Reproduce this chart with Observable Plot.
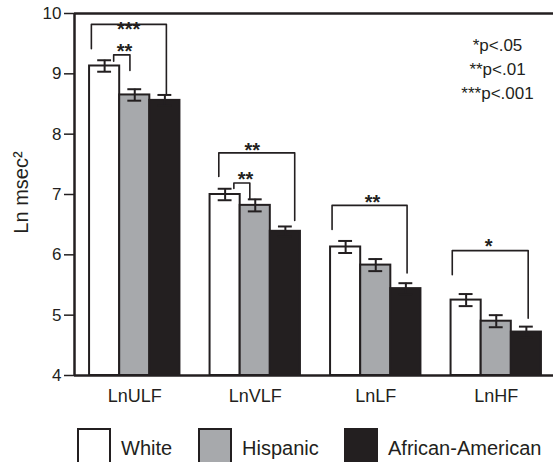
<!DOCTYPE html>
<html>
<head>
<meta charset="utf-8">
<script src="https://cdn.jsdelivr.net/npm/d3@7"></script>
<script src="https://cdn.jsdelivr.net/npm/@observablehq/plot@0.6"></script>
<style>
  body { margin: 0; background: #fff; font-family: "Liberation Sans", Arial, sans-serif; color: #231f20; }
  #chart svg { display: block; overflow: visible; }
  #legend { position: relative; width: 553px; height: 47px; overflow: hidden; }
  .item { position: absolute; top: 13px; display: flex; align-items: flex-start; }
  .sw { width: 30px; height: 34px; border: 2px solid #231f20; }
  .lab { font-size: 20px; line-height: 24px; margin-left: 10px; margin-top: 8px; white-space: nowrap; }
</style>
</head>
<body>
<div id="chart"></div>
<div id="legend"></div>
<script>
// ---- data ----
const categories = ["LnULF", "LnVLF", "LnLF", "LnHF"];
const seriesNames = ["White", "Hispanic", "African-American"];
const seriesColors = ["#ffffff", "#a7a9ac", "#231f20"];
const whiteMeans = [9.13, 7.00, 6.13, 5.25];
const hispanicMeans = [8.65, 6.82, 5.83, 4.90];
const africanAmericanMeans = [8.56, 6.39, 5.44, 4.72];
const whiteSE = [0.095, 0.095, 0.10, 0.10];
const hispanicSE = [0.095, 0.10, 0.10, 0.10];
const africanAmericanSE = [0.09, 0.08, 0.09, 0.09];
const yTicks = [4, 5, 6, 7, 8, 9, 10];

// significance brackets (x in bar-slot units, y in Ln msec²)
const bracketLabel = ["***", "**", "**", "**", "**", "*"];
const bracketStart = [0.56, 1.30, 4.79, 5.29, 8.55, 12.54];
const bracketEnd = [3.05, 1.84, 7.31, 5.82, 11.04, 15.06];
const bracketTop = [9.82, 9.315, 7.69, 7.19, 6.82, 6.07];
const bracketLeftFoot = [9.415, 9.21, 7.30, 7.10, 6.42, 5.67];
const bracketRightFoot = [8.67, 9.055, 6.57, 6.92, 5.70, 4.95];
const bracketLabelX = [1.80, 1.66, 5.90, 5.68, 9.89, 13.75];
const bracketLabelY = [9.83, 9.47, 7.83, 7.35, 6.97, 6.23];
const pLegend = ["*p<.05", "**p<.01", "***p<.001"];

// ---- build tables ----
const means = [whiteMeans, hispanicMeans, africanAmericanMeans];
const ses = [whiteSE, hispanicSE, africanAmericanSE];
const rows = [];
categories.forEach((cat, g) => {
  seriesNames.forEach((s, k) => {
    rows.push({cat, series: s, g, k, value: means[k][g], se: ses[k][g], cx: 4 * g + k + 1});
  });
});
const bracketPts = [];
bracketLabel.forEach((lab, i) => {
  bracketPts.push({id: i, x: bracketStart[i], y: bracketLeftFoot[i]});
  bracketPts.push({id: i, x: bracketStart[i], y: bracketTop[i]});
  bracketPts.push({id: i, x: bracketEnd[i], y: bracketTop[i]});
  bracketPts.push({id: i, x: bracketEnd[i], y: bracketRightFoot[i]});
});
const bracketText = bracketLabel.map((t, i) => ({t, x: bracketLabelX[i], y: bracketLabelY[i]}));

const ink = "#231f20";
const capHalf = 0.23;

const chart = Plot.plot({
  width: 553,
  height: 415,
  marginLeft: 74,
  marginRight: -3,
  marginTop: 13,
  marginBottom: 40,
  style: {fontFamily: '"Liberation Sans", Arial, sans-serif', color: ink, background: "white", overflow: "visible"},
  x: {domain: [0, 16], axis: null},
  y: {domain: [4, 10], axis: null},
  color: {domain: seriesNames, range: seriesColors},
  marks: [
    Plot.rect(rows, {x1: d => d.cx - 0.5, x2: d => d.cx + 0.5, y1: 4, y2: "value", fill: "series", stroke: ink, strokeWidth: 2}),
    Plot.ruleX(rows, {x: "cx", y1: d => d.value - d.se, y2: d => d.value + d.se, stroke: ink, strokeWidth: 2}),
    Plot.ruleY(rows, {y: d => d.value + d.se, x1: d => d.cx - capHalf, x2: d => d.cx + capHalf, stroke: ink, strokeWidth: 2}),
    Plot.ruleY(rows, {y: d => d.value - d.se, x1: d => d.cx - capHalf, x2: d => d.cx + capHalf, stroke: ink, strokeWidth: 2}),
    Plot.line(bracketPts, {x: "x", y: "y", z: "id", stroke: ink, strokeWidth: 1.6, curve: "linear"}),
    Plot.text(bracketText, {x: "x", y: "y", text: "t", fontSize: 20, fontWeight: "bold", fill: ink, dy: 6}),
    Plot.ruleY([4, 10], {stroke: ink, strokeWidth: 2.5}),
    Plot.ruleX([0], {y1: 4, y2: 10, stroke: ink, strokeWidth: 2.5}),
    Plot.axisY({ticks: yTicks, tickFormat: d => String(d), tickSize: 10, tickPadding: 3, fontSize: 17, label: null, strokeWidth: 1.5}),
    Plot.axisX({ticks: categories.map((c, g) => 4 * g + 2), tickFormat: v => categories[(v - 2) / 4], tickSize: 0, tickPadding: 14, fontSize: 18, label: null}),
    Plot.text(["Ln msec\u00b2"], {frameAnchor: "left", dx: -53, dy: -2, rotate: -90, fontSize: 20, fill: ink, textAnchor: "middle"}),
    Plot.text([pLegend.join("\n")], {frameAnchor: "top-right", dx: -59, dy: 20, lineAnchor: "top", textAnchor: "middle", lineHeight: 1.42, fontSize: 17, fill: ink})
  ]
});
document.getElementById("chart").appendChild(chart);

// ---- legend ----
const legendLeft = [77, 198, 344];
const legend = document.getElementById("legend");
seriesNames.forEach((s, i) => {
  const item = document.createElement("div");
  item.className = "item";
  item.style.left = legendLeft[i] + "px";
  const sw = document.createElement("div");
  sw.className = "sw";
  sw.style.background = seriesColors[i];
  const lab = document.createElement("div");
  lab.className = "lab";
  lab.textContent = s;
  item.appendChild(sw);
  item.appendChild(lab);
  legend.appendChild(item);
});
</script>
</body>
</html>
